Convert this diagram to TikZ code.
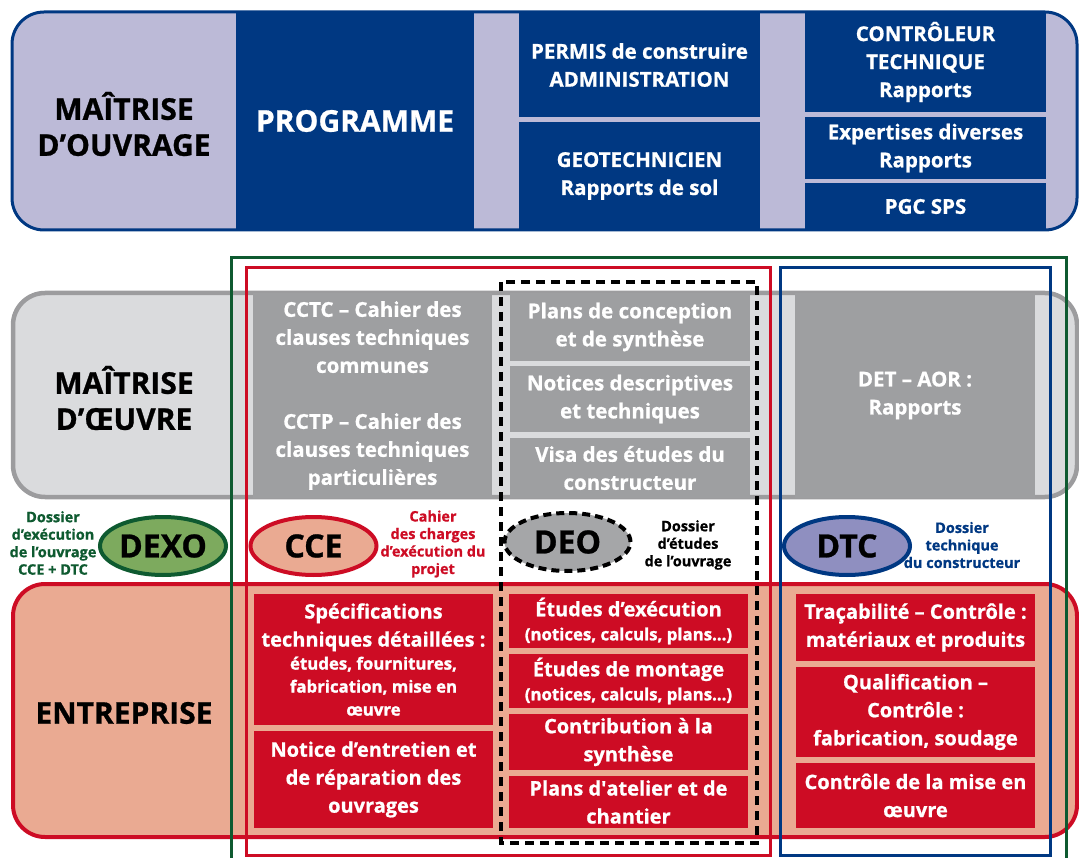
\documentclass[tikz,border=0pt]{standalone}
\usepackage{fontspec}
\setmainfont{Open Sans}[BoldFeatures={FakeBold=0.8}]
\newfontfamily\semib{Open Sans}[FakeBold=1.5]
\usetikzlibrary{shapes.geometric}

\definecolor{navy}{RGB}{0,56,130}
\definecolor{lavender}{RGB}{188,186,215}
\definecolor{midgray}{RGB}{158,159,161}
\definecolor{paleGray}{RGB}{218,219,221}
\definecolor{bordergray}{RGB}{156,156,158}
\definecolor{boxred}{RGB}{205,12,36}
\definecolor{salmon}{RGB}{234,170,146}
\definecolor{dkgreen}{RGB}{14,90,48}
\definecolor{leafgreen}{RGB}{125,170,94}
\definecolor{deogray}{RGB}{165,166,168}
\definecolor{dtcblue}{RGB}{143,143,192}

\newcommand{\detailfont}{\semib\fontsize{16.8}{20}\selectfont}

\tikzset{
  cell/.style={inner sep=0pt, outer sep=0pt, align=center, text=white,
    font=\bfseries\fontsize{20.5}{28}\selectfont},
  tag/.style={ellipse, draw, line width=4, inner sep=0pt, minimum width=126,
    minimum height=58, font=\bfseries\fontsize{32}{32}\selectfont},
  note/.style={align=center, font=\bfseries\fontsize{14.5}{17.5}\selectfont},
  side/.style={align=center, font=\bfseries\fontsize{30}{36}\selectfont}
}

\begin{document}
\begin{tikzpicture}[x=1pt, y=-1pt]
\useasboundingbox (0,0) rectangle (1079,858);

% the three bands
\draw[navy, line width=3, fill=lavender, rounded corners=32] (12,12) rectangle (1077,230);
\draw[bordergray, line width=4.5, fill=paleGray, rounded corners=32] (13,293) rectangle (1077,497);
\draw[boxred, line width=4, fill=salmon, rounded corners=32] (13,584) rectangle (1077,837);

\node[side] (moa) at (124,124) {MAÎTRISE\\D’OUVRAGE};
\node[side] (moe) at (124,398) {MAÎTRISE\\D’ŒUVRE};
\node[side] (ent) at (124,713) {ENTREPRISE};

% maitrise d'ouvrage
\node[cell, fill=navy, minimum width=238, minimum height=218,
  font=\bfseries\fontsize{30}{30}\selectfont] (prog) at (355,121) {PROGRAMME};
\foreach \yc/\hc/\lbl [count=\n] in
  {65/105/{PERMIS de construire\\ADMINISTRATION},
   176/108/{GEOTECHNICIEN\\Rapports de sol}}
  \node[cell, fill=navy, minimum width=241, minimum height=\hc] (adm\n) at (639.5,\yc) {\lbl};
\foreach \yc/\hc/\lbl [count=\n] in
  {62/100/{CONTRÔLEUR\\TECHNIQUE\\Rapports},
   148/62/{Expertises diverses\\Rapports},
   206.5/46/{PGC SPS}}
  \node[cell, fill=navy, minimum width=241, minimum height=\hc] (ctl\n) at (925.5,\yc) {\lbl};

% maitrise d'oeuvre
\node[cell, fill=midgray, minimum width=239, minimum height=205] (cct) at (372.5,395.5)
  {CCTC – Cahier des\\clauses techniques\\communes\\[28pt]CCTP – Cahier des\\clauses techniques\\particulières};
\foreach \yc/\hc/\lbl [count=\n] in
  {327/68/{Plans de conception\\et de synthèse},
   399/66/{Notices descriptives\\et techniques},
   468/60/{Visa des études du\\constructeur}}
  \node[cell, fill=midgray, minimum width=240, minimum height=\hc] (conc\n) at (630,\yc) {\lbl};
\node[cell, fill=midgray, minimum width=240, minimum height=205] (det) at (915,395.5) {DET – AOR :\\Rapports};

% entreprise
\tikzset{cell/.append style={font=\bfseries\fontsize{20}{28}\selectfont}}
\node[cell, fill=boxred, minimum width=239, minimum height=131] (spec) at (373.5,659.5)
  {Spécifications\\techniques détaillées :\\[-5pt]
   {\detailfont études, fournitures,}\\[-5pt]
   {\detailfont fabrication, mise en}\\[-5pt]
   {\detailfont œuvre}};
\node[cell, fill=boxred, minimum width=239, minimum height=97] (entr) at (373.5,779.5)
  {Notice d’entretien et\\de réparation des\\ouvrages};
\foreach \yc/\hc/\lbl [count=\n] in
  {621/54/{Études d’exécution\\[-4pt]{\detailfont (notices, calculs, plans...)}},
   681/54/{Études de montage\\[-4pt]{\detailfont (notices, calculs, plans...)}},
   742/56/{Contribution à la\\synthèse},
   802/52/{Plans d\textquotesingle atelier et de\\chantier}}
  \node[cell, fill=boxred, minimum width=239, minimum height=\hc] (exe\n) at (628.5,\yc) {\lbl};
\foreach \yc/\hc/\lbl [count=\n] in
  {627.5/67/{Traçabilité – Contrôle :\\matériaux et produits},
   712/90/{Qualification –\\Contrôle :\\fabrication, soudage},
   795.5/65/{Contrôle de la mise en\\œuvre}}
  \node[cell, fill=boxred, minimum width=239, minimum height=\hc] (ctr\n) at (915.5,\yc) {\lbl};

% dossiers
\draw[dkgreen, line width=3] (231,862) -- (231,258) -- (1066,258) -- (1066,862);
\draw[boxred, line width=3] (246,268) rectangle (770,855);
\draw[navy, line width=3] (780,268) rectangle (1050,855);
\draw[line width=4, dash pattern=on 9 off 6] (501,282) rectangle (757,843);

\node[tag, draw=dkgreen, fill=leafgreen] (dexo) at (163,546) {DEXO};
\node[tag, draw=boxred, fill=salmon] (cce) at (313.5,546) {CCE};
\node[tag, draw=black, fill=deogray, dash pattern=on 8 off 5] (deo) at (567.5,542) {DEO};
\node[tag, draw=navy, fill=dtcblue] (dtc) at (847,546) {DTC};

\node[note, text=dkgreen] (dexotxt) at (53,543) {Dossier\\d’exécution\\de l’ouvrage\\CCE + DTC};
\node[note, text=boxred] (ccetxt) at (433,544) {Cahier\\des charges\\d’exécution du\\projet};
\node[note] (deotxt) at (688,545) {Dossier\\d’études\\de l’ouvrage};
\node[note, text=navy] (dtctxt) at (962,545) {Dossier\\technique\\du constructeur};
\end{tikzpicture}
\end{document}
